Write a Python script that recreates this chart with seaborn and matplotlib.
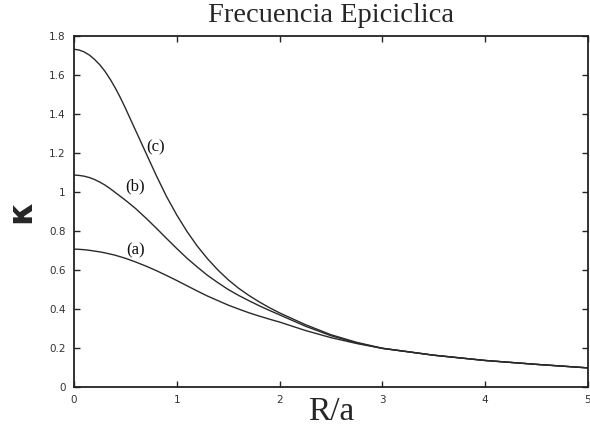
import numpy as np
import pandas as pd
import matplotlib
matplotlib.use("Agg")
import matplotlib.pyplot as plt
import seaborn as sns

# Radius in units of the scale length a
r_over_a = [0.0, 0.05, 0.1, 0.15, 0.2, 0.25, 0.3, 0.35, 0.4, 0.45, 0.5,
            0.6, 0.7, 0.8, 0.9, 1.0, 1.1, 1.2, 1.3, 1.4, 1.5, 1.6, 1.7,
            1.8, 1.9, 2.0, 2.25, 2.5, 2.75, 3.0, 3.5, 4.0, 4.5, 5.0]

# Epicyclic frequency kappa for the three models
kappa_a = [0.707, 0.706, 0.704, 0.701, 0.697, 0.693, 0.688, 0.682, 0.676, 0.668, 0.660,
           0.641, 0.620, 0.597, 0.572, 0.546, 0.519, 0.492, 0.466, 0.443, 0.420, 0.400, 0.381,
           0.364, 0.348, 0.333, 0.290, 0.253, 0.223, 0.198, 0.163, 0.136, 0.116, 0.098]
kappa_b = [1.087, 1.085, 1.081, 1.074, 1.064, 1.051, 1.036, 1.018, 0.998, 0.978, 0.958,
           0.915, 0.866, 0.815, 0.762, 0.710, 0.660, 0.615, 0.572, 0.535, 0.500, 0.470, 0.443,
           0.417, 0.393, 0.370, 0.312, 0.263, 0.226, 0.198, 0.163, 0.136, 0.116, 0.098]
kappa_c = [1.732, 1.728, 1.718, 1.702, 1.680, 1.653, 1.620, 1.580, 1.535, 1.485, 1.430,
           1.315, 1.200, 1.085, 0.977, 0.882, 0.797, 0.722, 0.657, 0.600, 0.550, 0.507, 0.470,
           0.437, 0.407, 0.380, 0.320, 0.268, 0.229, 0.199, 0.163, 0.136, 0.116, 0.098]

curve_names = ["(a)", "(b)", "(c)"]
# Label anchors (R/a, kappa) for each curve tag
label_pos = {"(a)": (0.595, 0.70), "(b)": (0.595, 1.027), "(c)": (0.79, 1.23)}

x_ticks = [0, 1, 2, 3, 4, 5]
y_ticks = [0, 0.2, 0.4, 0.6, 0.8, 1, 1.2, 1.4, 1.6, 1.8]
y_tick_labels = ["0", "0.2", "0.4", "0.6", "0.8", "1", "1.2", "1.4", "1.6", "1.8"]

df = pd.concat([
    pd.DataFrame({"R": r_over_a, "kappa": vals, "curve": name})
    for name, vals in zip(curve_names, [kappa_a, kappa_b, kappa_c])
], ignore_index=True)

sns.set_style("ticks")

fig = plt.figure(figsize=(5.9, 4.3), dpi=100)
ax = fig.add_axes([0.1254, 0.1, 0.8712, 0.8163])

sns.lineplot(data=df, x="R", y="kappa", hue="curve", sort=False,
             palette=["#2a2a2a"] * 3, linewidth=1.0, legend=False, ax=ax)

ax.set_xlim(0, 5)
ax.set_ylim(0, 1.8)
ax.set_xticks(x_ticks)
ax.set_xticklabels([str(t) for t in x_ticks])
ax.set_yticks(y_ticks)
ax.set_yticklabels(y_tick_labels)

ax.tick_params(direction="in", length=4, width=1.0, top=True, right=True,
               labelsize=7.5, labelcolor="#333333", pad=6)
for s in ax.spines.values():
    s.set_linewidth(1.3)
    s.set_color("#222222")

serif = ["Liberation Serif", "DejaVu Serif"]
for name, (lx, ly) in label_pos.items():
    ax.text(lx, ly, name, fontsize=12, family=serif, ha="center", va="center",
            color="#111111")

fig.text(331 / 590, 1 - 22.5 / 430, "Frecuencia Epiciclica", fontsize=20.5,
         family=serif, ha="center", va="baseline")
fig.text(331 / 590, 1 - 420 / 430, "R/a", fontsize=24, family=serif,
         ha="center", va="baseline")
fig.text(21 / 590, 1 - 211.5 / 430, "κ", fontsize=24, family=["DejaVu Sans"],
         fontweight="bold", rotation=90, ha="center", va="center")
ax.set_xlabel("")
ax.set_ylabel("")

fig.savefig("out.png", dpi=100)
